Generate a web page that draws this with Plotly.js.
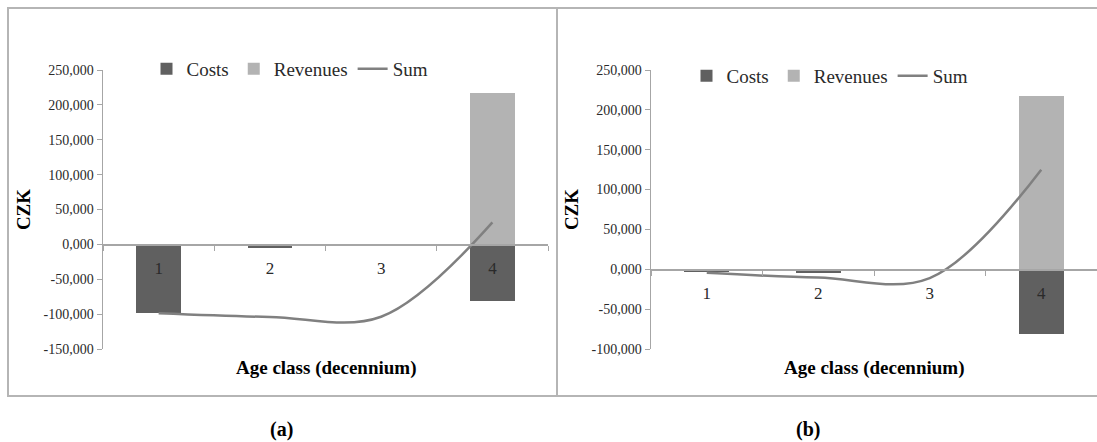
<!DOCTYPE html>
<html>
<head>
<meta charset="utf-8">
<script src="https://cdn.plot.ly/plotly-3.0.1.min.js"></script>
<style>html,body{margin:0;padding:0;background:#fff;}#chart{width:1097px;height:442px;}</style>
</head>
<body>
<div id="chart"></div>
<script>
// ---- data (CZK) ----
const categories = ['1', '2', '3', '4'];
const costsA    = [-98500, -4700, 0, -81600];
const revenuesA = [0, 0, 0, 216700];
const sumA      = [-98800, -104000, -103700, 31500];
const costsB    = [-3400, -5000, 0, -81000];
const revenuesB = [0, 0, 0, 217000];
const sumB      = [-4500, -10400, -11000, 125000];
const yTicksA = [-150000, -100000, -50000, 0, 50000, 100000, 150000, 200000, 250000];
const yTicksB = [-100000, -50000, 0, 50000, 100000, 150000, 200000, 250000];
const seriesNames = ['Costs', 'Revenues', 'Sum'];
const xTitle = 'Age class (decennium)';
const yTitle = 'CZK';
const panelLabels = ['(a)', '(b)'];

// ---- layout helpers ----
const W = 1097, H = 442;
const M = {l: 103, r: 0, t: 70, b: 93};
const PW = W - M.l - M.r, PH = H - M.t - M.b;
const px2x = p => (p - M.l) / PW;
const px2y = p => (H - M.b - p) / PH;
const fmt = v => (v < 0 ? '-' : '') + Math.floor(Math.abs(v) / 1000) + ',' + String(Math.abs(v) % 1000).padStart(3, '0');

const FONT = 'Liberation Serif, Times New Roman, serif';
const C_COST = '#606060', C_REV = '#b3b3b3', C_SUM = '#808080', C_AX = '#a6a6a6', C_TXT = '#2a2a2a';

const rangeA = [yTicksA[0], yTicksA[yTicksA.length - 1]];
const rangeB = [yTicksB[0], yTicksB[yTicksB.length - 1]];
const zeroA = (0 - rangeA[0]) / (rangeA[1] - rangeA[0]);
const zeroB = (0 - rangeB[0]) / (rangeB[1] - rangeB[0]);

function traces(costs, revs, sums, xa, ya, lg) {
  return [
    {type: 'bar', name: seriesNames[0], x: categories, y: costs, xaxis: xa, yaxis: ya, legend: lg,
     marker: {color: C_COST, line: {width: 0}}, width: 0.4},
    {type: 'bar', name: seriesNames[1], x: categories, y: revs, xaxis: xa, yaxis: ya, legend: lg,
     marker: {color: C_REV, line: {width: 0}}, width: 0.4},
    {type: 'scatter', mode: 'lines', name: seriesNames[2], x: categories, y: sums, xaxis: xa, yaxis: ya, legend: lg,
     line: {color: C_SUM, width: 2.5, shape: 'spline', smoothing: 1}}
  ];
}

const data = [].concat(
  traces(costsA, revenuesA, sumA, 'x', 'y', 'legend'),
  traces(costsB, revenuesB, sumB, 'x2', 'y2', 'legend2')
);

function xAxis(domain, pos) {
  return {
    type: 'category', domain: domain, anchor: 'free', position: pos,
    range: [-0.5, 3.5], showline: true, linecolor: C_AX, linewidth: 1.5,
    ticks: 'outside', tickson: 'boundaries', ticklen: 5, tickcolor: C_AX, tickwidth: 1,
    ticklabelstandoff: 8,
    tickfont: {family: FONT, size: 17, color: C_TXT}, showgrid: false, zeroline: false, fixedrange: true
  };
}
function yAxis(range, ticks, xa) {
  return {
    anchor: xa, domain: [0, 1], range: range, tickvals: ticks, ticktext: ticks.map(fmt),
    showline: true, linecolor: C_AX, linewidth: 1.5, ticks: 'outside', ticklen: 5, tickcolor: C_AX,
    tickfont: {family: FONT, size: 14, color: C_TXT}, showgrid: false, zeroline: false, fixedrange: true,
    title: {text: '<b>' + yTitle + '</b>', font: {family: FONT, size: 19, color: '#000'}, standoff: 8}
  };
}

const legendBase = {
  orientation: 'h', xanchor: 'center', yanchor: 'middle', bgcolor: 'rgba(0,0,0,0)',
  font: {family: FONT, size: 19, color: C_TXT}, itemwidth: 30, traceorder: 'normal', tracegroupgap: 0
};

const domA = [0, px2x(548)], domB = [px2x(651), 1];

const layout = {
  width: W, height: H, margin: M, paper_bgcolor: '#fff', plot_bgcolor: 'rgba(0,0,0,0)',
  barmode: 'relative', bargap: 0, showlegend: true,
  xaxis: xAxis(domA, zeroA),
  yaxis: yAxis(rangeA, yTicksA, 'x'),
  xaxis2: xAxis(domB, zeroB),
  yaxis2: yAxis(rangeB, yTicksB, 'x2'),
  legend: Object.assign({}, legendBase, {x: px2x(290), y: px2y(69)}),
  legend2: Object.assign({}, legendBase, {x: px2x(830), y: px2y(76)}),
  annotations: [
    {xref: 'x domain', yref: 'paper', x: 0.5, y: px2y(368), text: '<b>' + xTitle + '</b>', showarrow: false,
     xanchor: 'center', yanchor: 'middle', font: {family: FONT, size: 19, color: '#000'}},
    {xref: 'x2 domain', yref: 'paper', x: 0.5, y: px2y(368), text: '<b>' + xTitle + '</b>', showarrow: false,
     xanchor: 'center', yanchor: 'middle', font: {family: FONT, size: 19, color: '#000'}},
    {xref: 'paper', yref: 'paper', x: px2x(281), y: px2y(429), text: '<b>' + panelLabels[0] + '</b>', showarrow: false,
     xanchor: 'center', yanchor: 'middle', font: {family: FONT, size: 20, color: '#000'}},
    {xref: 'paper', yref: 'paper', x: px2x(808), y: px2y(429), text: '<b>' + panelLabels[1] + '</b>', showarrow: false,
     xanchor: 'center', yanchor: 'middle', font: {family: FONT, size: 20, color: '#000'}}
  ],
  shapes: [
    {type: 'rect', xref: 'paper', yref: 'paper', x0: px2x(8), x1: px2x(1105), y0: px2y(396), y1: px2y(8),
     line: {color: '#b5b5b5', width: 2}, fillcolor: 'rgba(0,0,0,0)', layer: 'below'},
    {type: 'line', xref: 'paper', yref: 'paper', x0: px2x(557), x1: px2x(557), y0: px2y(396), y1: px2y(8),
     line: {color: '#b5b5b5', width: 2}, layer: 'below'}
  ]
};

Plotly.newPlot('chart', data, layout, {displayModeBar: false, staticPlot: true});
</script>
</body>
</html>
